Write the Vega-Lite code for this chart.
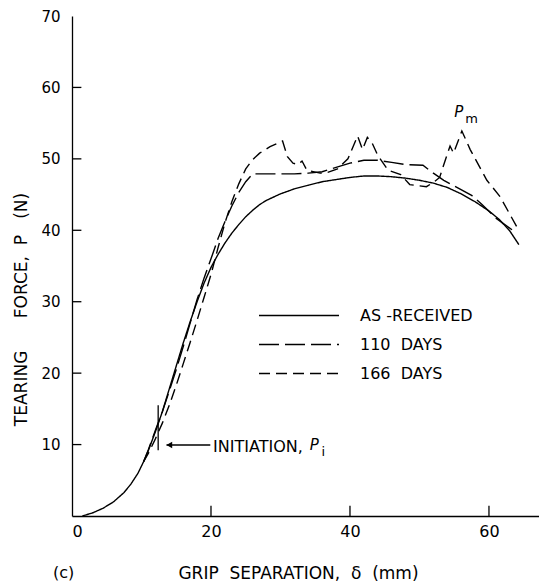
{
  "$schema": "https://vega.github.io/schema/vega-lite/v6.json",
  "width": 467,
  "height": 500,
  "autosize": {"type": "none"},
  "padding": {"left": 72, "top": 16, "right": 0, "bottom": 66},
  "background": "white",
  "title": {"text": "(c)", "orient": "bottom", "anchor": "start", "frame": "group", "dx": -19, "offset": -16, "fontSize": 16, "fontWeight": "normal", "font": "DejaVu Sans", "color": "black"},
  "config": {
    "view": {"stroke": null},
    "font": "DejaVu Sans",
    "axis": {"domainColor": "black", "labelColor": "black", "titleColor": "black", "grid": false, "domainWidth": 1.3, "ticks": false, "labelFont": "DejaVu Sans", "titleFont": "DejaVu Sans", "labelFontSize": 15, "titleFontSize": 17, "titleFontWeight": "normal"}
  },
  "datasets": {
    "curves": [
      {"series": "AS -RECEIVED", "x": 1.5, "y": 0}, {"series": "AS -RECEIVED", "x": 3, "y": 0.45}, {"series": "AS -RECEIVED", "x": 4.5, "y": 1.1}, {"series": "AS -RECEIVED", "x": 6, "y": 2}, {"series": "AS -RECEIVED", "x": 7.5, "y": 3.3}, {"series": "AS -RECEIVED", "x": 8.5, "y": 4.5}, {"series": "AS -RECEIVED", "x": 9.5, "y": 6}, {"series": "AS -RECEIVED", "x": 10.3, "y": 7.6}, {"series": "AS -RECEIVED", "x": 11, "y": 9.2}, {"series": "AS -RECEIVED", "x": 12, "y": 11.8}, {"series": "AS -RECEIVED", "x": 13, "y": 14.6}, {"series": "AS -RECEIVED", "x": 14, "y": 17.8}, {"series": "AS -RECEIVED", "x": 15, "y": 21}, {"series": "AS -RECEIVED", "x": 16, "y": 24.2}, {"series": "AS -RECEIVED", "x": 17, "y": 27.2}, {"series": "AS -RECEIVED", "x": 18, "y": 30}, {"series": "AS -RECEIVED", "x": 19, "y": 32.6}, {"series": "AS -RECEIVED", "x": 20, "y": 34.8}, {"series": "AS -RECEIVED", "x": 21, "y": 36.6}, {"series": "AS -RECEIVED", "x": 22, "y": 38.2}, {"series": "AS -RECEIVED", "x": 23, "y": 39.6}, {"series": "AS -RECEIVED", "x": 24, "y": 40.8}, {"series": "AS -RECEIVED", "x": 25, "y": 41.9}, {"series": "AS -RECEIVED", "x": 26, "y": 42.8}, {"series": "AS -RECEIVED", "x": 27, "y": 43.6}, {"series": "AS -RECEIVED", "x": 28, "y": 44.2}, {"series": "AS -RECEIVED", "x": 30, "y": 45.1}, {"series": "AS -RECEIVED", "x": 32, "y": 45.8}, {"series": "AS -RECEIVED", "x": 34, "y": 46.3}, {"series": "AS -RECEIVED", "x": 36, "y": 46.8}, {"series": "AS -RECEIVED", "x": 38, "y": 47.1}, {"series": "AS -RECEIVED", "x": 40, "y": 47.4}, {"series": "AS -RECEIVED", "x": 42, "y": 47.6}, {"series": "AS -RECEIVED", "x": 44, "y": 47.6}, {"series": "AS -RECEIVED", "x": 46, "y": 47.5}, {"series": "AS -RECEIVED", "x": 48, "y": 47.3}, {"series": "AS -RECEIVED", "x": 50, "y": 47}, {"series": "AS -RECEIVED", "x": 52, "y": 46.6}, {"series": "AS -RECEIVED", "x": 54, "y": 46}, {"series": "AS -RECEIVED", "x": 56, "y": 45.1}, {"series": "AS -RECEIVED", "x": 58, "y": 44}, {"series": "AS -RECEIVED", "x": 60, "y": 42.7}, {"series": "AS -RECEIVED", "x": 61.5, "y": 41.5}, {"series": "AS -RECEIVED", "x": 63, "y": 39.9}, {"series": "AS -RECEIVED", "x": 64.3, "y": 38},
      {"series": "110\u00a0\u00a0DAYS", "x": 10.3, "y": 7.6}, {"series": "110\u00a0\u00a0DAYS", "x": 11, "y": 9.3}, {"series": "110\u00a0\u00a0DAYS", "x": 12, "y": 12}, {"series": "110\u00a0\u00a0DAYS", "x": 13, "y": 14.6}, {"series": "110\u00a0\u00a0DAYS", "x": 14, "y": 17.5}, {"series": "110\u00a0\u00a0DAYS", "x": 15, "y": 20.5}, {"series": "110\u00a0\u00a0DAYS", "x": 16, "y": 23.7}, {"series": "110\u00a0\u00a0DAYS", "x": 17, "y": 27}, {"series": "110\u00a0\u00a0DAYS", "x": 18, "y": 30.3}, {"series": "110\u00a0\u00a0DAYS", "x": 19, "y": 33.3}, {"series": "110\u00a0\u00a0DAYS", "x": 20, "y": 36}, {"series": "110\u00a0\u00a0DAYS", "x": 21, "y": 38.8}, {"series": "110\u00a0\u00a0DAYS", "x": 22, "y": 41.2}, {"series": "110\u00a0\u00a0DAYS", "x": 23, "y": 43.4}, {"series": "110\u00a0\u00a0DAYS", "x": 24, "y": 45.3}, {"series": "110\u00a0\u00a0DAYS", "x": 25, "y": 46.8}, {"series": "110\u00a0\u00a0DAYS", "x": 26, "y": 47.9}, {"series": "110\u00a0\u00a0DAYS", "x": 28, "y": 47.9}, {"series": "110\u00a0\u00a0DAYS", "x": 30, "y": 47.9}, {"series": "110\u00a0\u00a0DAYS", "x": 32, "y": 47.9}, {"series": "110\u00a0\u00a0DAYS", "x": 34, "y": 48}, {"series": "110\u00a0\u00a0DAYS", "x": 36, "y": 48.2}, {"series": "110\u00a0\u00a0DAYS", "x": 38, "y": 48.8}, {"series": "110\u00a0\u00a0DAYS", "x": 40, "y": 49.4}, {"series": "110\u00a0\u00a0DAYS", "x": 42, "y": 49.8}, {"series": "110\u00a0\u00a0DAYS", "x": 44, "y": 49.8}, {"series": "110\u00a0\u00a0DAYS", "x": 46, "y": 49.5}, {"series": "110\u00a0\u00a0DAYS", "x": 48, "y": 49.2}, {"series": "110\u00a0\u00a0DAYS", "x": 50.5, "y": 49.1}, {"series": "110\u00a0\u00a0DAYS", "x": 52, "y": 48}, {"series": "110\u00a0\u00a0DAYS", "x": 53.5, "y": 47}, {"series": "110\u00a0\u00a0DAYS", "x": 55, "y": 46.2}, {"series": "110\u00a0\u00a0DAYS", "x": 57.5, "y": 44.9}, {"series": "110\u00a0\u00a0DAYS", "x": 59, "y": 43.6}, {"series": "110\u00a0\u00a0DAYS", "x": 61, "y": 41.7}, {"series": "110\u00a0\u00a0DAYS", "x": 63.7, "y": 39.8},
      {"series": "166\u00a0\u00a0DAYS", "x": 10.3, "y": 7.6}, {"series": "166\u00a0\u00a0DAYS", "x": 11, "y": 8.8}, {"series": "166\u00a0\u00a0DAYS", "x": 12, "y": 10.8}, {"series": "166\u00a0\u00a0DAYS", "x": 13, "y": 13}, {"series": "166\u00a0\u00a0DAYS", "x": 14, "y": 15.5}, {"series": "166\u00a0\u00a0DAYS", "x": 15, "y": 18.3}, {"series": "166\u00a0\u00a0DAYS", "x": 16, "y": 21.3}, {"series": "166\u00a0\u00a0DAYS", "x": 17, "y": 24.3}, {"series": "166\u00a0\u00a0DAYS", "x": 18, "y": 27.4}, {"series": "166\u00a0\u00a0DAYS", "x": 19, "y": 30.6}, {"series": "166\u00a0\u00a0DAYS", "x": 20, "y": 33.8}, {"series": "166\u00a0\u00a0DAYS", "x": 21, "y": 37.5}, {"series": "166\u00a0\u00a0DAYS", "x": 22, "y": 41}, {"series": "166\u00a0\u00a0DAYS", "x": 23, "y": 44}, {"series": "166\u00a0\u00a0DAYS", "x": 24, "y": 46.5}, {"series": "166\u00a0\u00a0DAYS", "x": 25, "y": 48.6}, {"series": "166\u00a0\u00a0DAYS", "x": 26, "y": 49.9}, {"series": "166\u00a0\u00a0DAYS", "x": 27, "y": 50.8}, {"series": "166\u00a0\u00a0DAYS", "x": 28.5, "y": 51.7}, {"series": "166\u00a0\u00a0DAYS", "x": 30.3, "y": 52.5}, {"series": "166\u00a0\u00a0DAYS", "x": 31, "y": 50.3}, {"series": "166\u00a0\u00a0DAYS", "x": 31.8, "y": 49.4}, {"series": "166\u00a0\u00a0DAYS", "x": 32.5, "y": 49.2}, {"series": "166\u00a0\u00a0DAYS", "x": 33.1, "y": 49.7}, {"series": "166\u00a0\u00a0DAYS", "x": 33.8, "y": 48.4}, {"series": "166\u00a0\u00a0DAYS", "x": 35.7, "y": 48}, {"series": "166\u00a0\u00a0DAYS", "x": 36.8, "y": 48.1}, {"series": "166\u00a0\u00a0DAYS", "x": 38.2, "y": 48.6}, {"series": "166\u00a0\u00a0DAYS", "x": 39.7, "y": 50}, {"series": "166\u00a0\u00a0DAYS", "x": 41.1, "y": 53.2}, {"series": "166\u00a0\u00a0DAYS", "x": 41.8, "y": 51.3}, {"series": "166\u00a0\u00a0DAYS", "x": 42.5, "y": 53}, {"series": "166\u00a0\u00a0DAYS", "x": 43.2, "y": 52.2}, {"series": "166\u00a0\u00a0DAYS", "x": 44, "y": 50.5}, {"series": "166\u00a0\u00a0DAYS", "x": 45.5, "y": 48.4}, {"series": "166\u00a0\u00a0DAYS", "x": 47.3, "y": 47.8}, {"series": "166\u00a0\u00a0DAYS", "x": 48.6, "y": 46.4}, {"series": "166\u00a0\u00a0DAYS", "x": 51, "y": 46.1}, {"series": "166\u00a0\u00a0DAYS", "x": 52, "y": 46.7}, {"series": "166\u00a0\u00a0DAYS", "x": 52.9, "y": 47.4}, {"series": "166\u00a0\u00a0DAYS", "x": 53.4, "y": 48.9}, {"series": "166\u00a0\u00a0DAYS", "x": 54.4, "y": 51.8}, {"series": "166\u00a0\u00a0DAYS", "x": 54.9, "y": 50.8}, {"series": "166\u00a0\u00a0DAYS", "x": 56.1, "y": 53.9}, {"series": "166\u00a0\u00a0DAYS", "x": 57.3, "y": 51.3}, {"series": "166\u00a0\u00a0DAYS", "x": 59.7, "y": 47}, {"series": "166\u00a0\u00a0DAYS", "x": 61.6, "y": 44.7}, {"series": "166\u00a0\u00a0DAYS", "x": 64, "y": 40.5}
    ]
  },
  "layer": [
    {
      "mark": {"type": "rule", "color": "black", "strokeWidth": 1.3},
      "encoding": {"y": {"datum": 70, "type": "quantitative", "scale": {"domain": [0, 70], "nice": false}}}
    },
    {
      "data": {"values": [{"v": 10}, {"v": 20}, {"v": 30}, {"v": 40}, {"v": 50}, {"v": 60}]},
      "mark": {"type": "rule", "color": "black", "strokeWidth": 1.3},
      "encoding": {"y": {"field": "v", "type": "quantitative"}, "x": {"datum": 0, "type": "quantitative"}, "x2": {"datum": 1.35}}
    },
    {
      "data": {"values": [{"v": 20}, {"v": 40}, {"v": 60}]},
      "mark": {"type": "rule", "color": "black", "strokeWidth": 1.3},
      "encoding": {"x": {"field": "v", "type": "quantitative"}, "y": {"datum": 0, "type": "quantitative"}, "y2": {"datum": 1.45}}
    },
    {
      "data": {"name": "curves"},
      "mark": {"type": "line", "color": "black", "strokeWidth": 1.4},
      "encoding": {
        "x": {"field": "x", "type": "quantitative", "scale": {"domain": [0, 67.2], "nice": false},
          "axis": {"values": [0, 20, 40, 60], "labelPadding": 7, "title": "GRIP\u00a0\u00a0SEPARATION,\u00a0\u00a0δ\u00a0\u00a0(mm)", "titleX": 226, "titleY": 62, "titleBaseline": "alphabetic", "titleAnchor": "middle", "labelFontSize": 16}},
        "y": {"field": "y", "type": "quantitative", "scale": {"domain": [0, 70], "nice": false},
          "axis": {"values": [10, 20, 30, 40, 50, 60, 70], "labelPadding": 12, "title": "TEARING\u00a0\u00a0\u00a0\u00a0\u00a0\u00a0FORCE,\u00a0\u00a0P\u00a0\u00a0\u00a0(N)", "titleX": -46, "titleY": 293, "titleBaseline": "alphabetic", "titleAnchor": "middle"}},
        "strokeDash": {"field": "series", "type": "nominal",
          "scale": {"domain": ["AS -RECEIVED", "110\u00a0\u00a0DAYS", "166\u00a0\u00a0DAYS"], "range": [[1, 0], [20, 6], [11, 6]]},
          "legend": {"title": null, "orient": "none", "legendX": 186, "legendY": 285, "symbolType": "stroke", "symbolSize": 6400, "symbolStrokeWidth": 1.4, "symbolStrokeColor": "black", "labelFontSize": 16, "labelColor": "black", "labelOffset": 20, "rowPadding": 0, "clipHeight": 29, "labelFont": "DejaVu Sans"}}
      }
    },
    {
      "data": {"values": [{"x": 12.4, "y": 15.5, "y2": 9.2}]},
      "mark": {"type": "rule", "color": "black", "strokeWidth": 1.3},
      "encoding": {"x": {"field": "x", "type": "quantitative"}, "y": {"field": "y", "type": "quantitative"}, "y2": {"field": "y2"}}
    },
    {
      "data": {"values": [{"x": 13.6, "x2": 19.9, "y": 9.94}]},
      "mark": {"type": "rule", "color": "black", "strokeWidth": 1.3},
      "encoding": {"x": {"field": "x", "type": "quantitative"}, "x2": {"field": "x2"}, "y": {"field": "y", "type": "quantitative"}}
    },
    {
      "data": {"values": [{"x": 14.0, "y": 9.94}]},
      "mark": {"type": "point", "shape": "triangle-left", "filled": true, "color": "black", "size": 45, "opacity": 1},
      "encoding": {"x": {"field": "x", "type": "quantitative"}, "y": {"field": "y", "type": "quantitative"}}
    },
    {
      "data": {"values": [{"x": 20.3, "y": 9.7, "label": "INITIATION,"}]},
      "mark": {"type": "text", "align": "left", "baseline": "middle", "fontSize": 16, "color": "black", "font": "DejaVu Sans"},
      "encoding": {"x": {"field": "x", "type": "quantitative"}, "y": {"field": "y", "type": "quantitative"}, "text": {"field": "label"}}
    },
    {
      "data": {"values": [{"x": 34.2, "y": 10.0, "label": "P"}, {"x": 55.0, "y": 56.6, "label": "P"}]},
      "mark": {"type": "text", "align": "left", "baseline": "middle", "fontSize": 15, "fontStyle": "italic", "color": "black", "font": "DejaVu Sans"},
      "encoding": {"x": {"field": "x", "type": "quantitative"}, "y": {"field": "y", "type": "quantitative"}, "text": {"field": "label"}}
    },
    {
      "data": {"values": [{"x": 35.9, "y": 9.0, "label": "i"}, {"x": 56.6, "y": 55.6, "label": "m"}]},
      "mark": {"type": "text", "align": "left", "baseline": "middle", "fontSize": 13, "color": "black", "font": "DejaVu Sans"},
      "encoding": {"x": {"field": "x", "type": "quantitative"}, "y": {"field": "y", "type": "quantitative"}, "text": {"field": "label"}}
    }
  ]
}
